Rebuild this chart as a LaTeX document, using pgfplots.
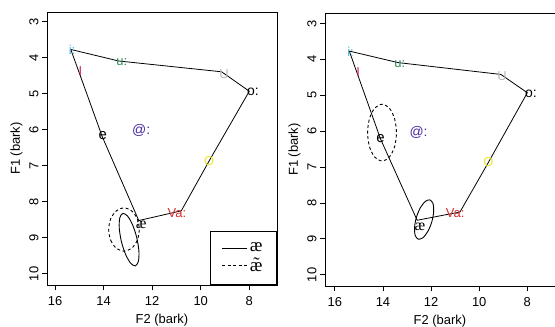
\documentclass[border=0pt]{standalone}
\usepackage{pgfplots}
\pgfplotsset{compat=1.18}
\usepackage{fontspec}
\setmainfont{Liberation Sans}
\newfontfamily\seriff{Liberation Serif}
\definecolor{icol}{RGB}{60,180,220}
\definecolor{Icol}{RGB}{220,40,90}
\definecolor{ucol}{RGB}{46,139,87}
\definecolor{Ucol}{RGB}{185,185,185}
\definecolor{atcol}{RGB}{70,40,160}
\definecolor{Vacol}{RGB}{210,45,45}
\definecolor{Ocol}{RGB}{235,230,40}
\newcommand{\fs}[1]{\fontsize{#1}{#1}\selectfont}
\newcommand{\vlab}[5][]{\addplot[draw=none, nodes near coords={#3},
  every node near coord/.append style={anchor=center, text=#2, inner sep=0pt, font=\fs{13}#1}]
  coordinates {(#4,#5)};}
\pgfplotsset{vowelaxis/.style={
  scale only axis, width=230bp, height=273bp, x dir=reverse, y dir=reverse,
  xtick={8,10,12,14,16}, ytick={3,4,...,10},
  tick align=outside, xtick pos=bottom, ytick pos=left, major tick length=5bp,
  axis line style={line width=0.9bp}, every tick/.style={black, line width=0.9bp},
  tick label style={font=\fs{13}},
  xticklabel style={yshift=-3bp},
  yticklabel style={rotate=90, anchor=south},
  xlabel={F2 (bark)}, ylabel={F1 (bark)},
  label style={font=\fs{13}},
  /pgf/number format/assume math mode=true,
  axis on top,
}}
\begin{document}
\begin{tikzpicture}
\path[use as bounding box] (0,0) rectangle (555bp,327bp);
% ---------------- left panel ----------------
\begin{axis}[vowelaxis, at={(47bp,42bp)}, anchor=south west,
  xmin=6.86, xmax=16.33, ymin=2.73, ymax=10.31,
  xlabel style={yshift=-2bp},
  legend style={at={(axis description cs:1,0)}, anchor=south east, draw=black, line width=0.9bp,
    font=\seriff\fs{19}, inner xsep=12bp, inner ysep=10bp, row sep=0bp, cells={anchor=west}},
  legend image code/.code={\draw[#1] (0bp,0bp) -- (25bp,0bp);}]
\addlegendimage{black, line width=0.9bp}
\addlegendentry{æ}
\addlegendimage{black, line width=0.9bp, dash pattern=on 3bp off 2.5bp}
\addlegendentry{æ̃}
\addplot[black, line width=0.8bp] coordinates {(15.35,3.77) (13.38,4.09) (9.14,4.39) (8.0,4.93) (9.65,6.86) (10.8,8.25) (12.55,8.52) (14.05,6.2) (15.35,3.77)};
\addplot[black, line width=0.9bp, smooth cycle] coordinates {(12.691,9.778) (12.885,9.706) (13.095,9.459) (13.267,9.102) (13.355,8.731) (13.333,8.446) (13.209,8.322) (13.015,8.394) (12.805,8.641) (12.633,8.998) (12.545,9.369) (12.567,9.654)};
\addplot[black, line width=0.9bp, dash pattern=on 3bp off 2.5bp, smooth cycle] coordinates {(13.79,8.77) (13.706,9.07) (13.475,9.29) (13.16,9.37) (12.845,9.29) (12.614,9.07) (12.53,8.77) (12.614,8.47) (12.845,8.25) (13.16,8.17) (13.475,8.25) (13.706,8.47)};
\vlab{icol}{i:}{15.3}{3.78}
\vlab{Icol}{I}{14.95}{4.36}
\vlab{ucol}{u:}{13.25}{4.13}
\vlab{Ucol}{U}{9.04}{4.45}
\vlab[\fs{14}]{black}{o:}{7.85}{4.95}
\vlab{Ocol}{O}{9.65}{6.86}
\vlab{Vacol}{Va:}{10.98}{8.3}
\vlab[\seriff\fs{16}]{black}{æ}{12.45}{8.65}
\vlab[\fs{15}]{black}{e}{14.03}{6.17}
\vlab[\fs{14}]{atcol}{@:}{12.45}{6.03}
\end{axis}
% ---------------- right panel ----------------
\begin{axis}[vowelaxis, at={(325bp,41bp)}, anchor=south west,
  xmin=6.85, xmax=16.41, ymin=2.71, ymax=10.31,
  xlabel style={yshift=-2bp}]
\addplot[black, line width=0.8bp] coordinates {(15.4,3.77) (13.38,4.09) (9.1,4.42) (8.0,4.93) (9.62,6.87) (10.8,8.25) (12.58,8.48) (14.1,6.22) (15.4,3.77)};
\addplot[black, line width=0.9bp, smooth cycle] coordinates {(12.048,7.913) (11.92,8.018) (11.892,8.241) (11.97,8.523) (12.134,8.789) (12.34,8.966) (12.532,9.007) (12.66,8.902) (12.688,8.679) (12.61,8.397) (12.446,8.131) (12.24,7.954)};
\addplot[black, line width=0.9bp, dash pattern=on 3bp off 2.5bp, smooth cycle] coordinates {(14.64,6.04) (14.56,6.435) (14.34,6.724) (14.04,6.83) (13.74,6.724) (13.52,6.435) (13.44,6.04) (13.52,5.645) (13.74,5.356) (14.04,5.25) (14.34,5.356) (14.56,5.645)};
\vlab{icol}{i:}{15.35}{3.78}
\vlab{Icol}{I}{15.03}{4.35}
\vlab{ucol}{u:}{13.3}{4.13}
\vlab{Ucol}{U}{9.05}{4.47}
\vlab[\fs{14}]{black}{o:}{7.85}{4.95}
\vlab{Ocol}{O}{9.62}{6.87}
\vlab{Vacol}{Va:}{11.0}{8.28}
\vlab[\seriff\fs{16}]{black}{æ}{12.46}{8.66}
\vlab[\fs{15}]{black}{e}{14.1}{6.2}
\vlab[\fs{14}]{atcol}{@:}{12.52}{6.03}
\end{axis}
\end{tikzpicture}
\end{document}
